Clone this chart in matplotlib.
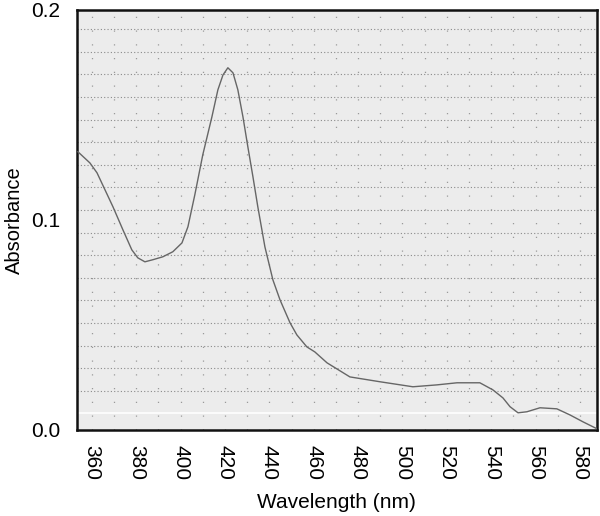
import numpy as np
import matplotlib.pyplot as plt

plt.rcParams['font.family'] = ['Liberation Sans', 'DejaVu Sans']

# Absorption spectrum
wavelength = [353.7, 359.1, 362.3, 365.9, 369.5, 374.0, 378.0, 380.7, 383.9, 387.5,
              392.0, 396.5, 400.6, 403.3, 406.4, 410.0, 414.1, 416.8, 419.1, 421.3,
              423.6, 425.8, 428.1, 430.3, 432.6, 434.8, 438.0, 441.6, 444.8, 449.3,
              452.4, 456.9, 460.5, 466.0, 476.3, 489.8, 504.7, 515.5, 524.6, 531.8,
              534.9, 540.8, 545.3, 548.5, 552.1, 556.1, 562.0, 569.6, 575.5, 581.4,
              587.7]
absorbance = [0.1324, 0.1271, 0.1224, 0.1143, 0.1062, 0.0952, 0.0857, 0.0819, 0.0800, 0.0810,
              0.0824, 0.0848, 0.0890, 0.0967, 0.1119, 0.1310, 0.1490, 0.1619, 0.1690, 0.1724,
              0.1700, 0.1619, 0.1490, 0.1348, 0.1205, 0.1062, 0.0871, 0.0714, 0.0619, 0.0510,
              0.0452, 0.0395, 0.0371, 0.0319, 0.0252, 0.0229, 0.0205, 0.0214, 0.0224, 0.0224,
              0.0224, 0.0190, 0.0152, 0.0110, 0.0081, 0.0086, 0.0105, 0.0100, 0.0071, 0.0038,
              0.0005]

x_ticks = [360, 380, 400, 420, 440, 460, 480, 500, 520, 540, 560, 580]
y_ticks = [0.0, 0.1, 0.2]
y_tick_labels = ['0.0', '0.1', '0.2']

fig = plt.figure(figsize=(6, 5.16), dpi=100)
ax = fig.add_axes([0.128, 0.167, 0.867, 0.814])
ax.set_facecolor('#ececec')

# chart paper grid
for y in np.arange(0.01857, 0.195, 0.01076):
    ax.axhline(y, color='#8a8a8a', lw=0.8, ls=(0, (1, 2)), zorder=1)
for x in range(360, 590, 10):
    ax.axvline(x, color='#9a9a9a', lw=0.9, ls=(0, (1, 10)), zorder=1)
ax.axhline(0.0081, color='white', lw=1.2, zorder=1)

ax.plot(wavelength, absorbance, color='#666666', lw=1.0, zorder=3)

ax.set_xlim(353.2, 587.7)
ax.set_ylim(0, 0.2)
ax.set_xticks(x_ticks)
ax.set_xticklabels([str(v) for v in x_ticks], rotation=270, fontsize=15)
ax.set_yticks(y_ticks)
ax.set_yticklabels(y_tick_labels, fontsize=15)
ax.tick_params(length=0, pad=12)
ax.tick_params(axis='x', pad=11)

for s in ax.spines.values():
    s.set_linewidth(1.8)
    s.set_color('#111111')

ax.set_xlabel('Wavelength (nm)', fontsize=15, labelpad=9)
ax.set_ylabel('Absorbance', fontsize=14.5, labelpad=5)

fig.savefig('out.png', dpi=100)
